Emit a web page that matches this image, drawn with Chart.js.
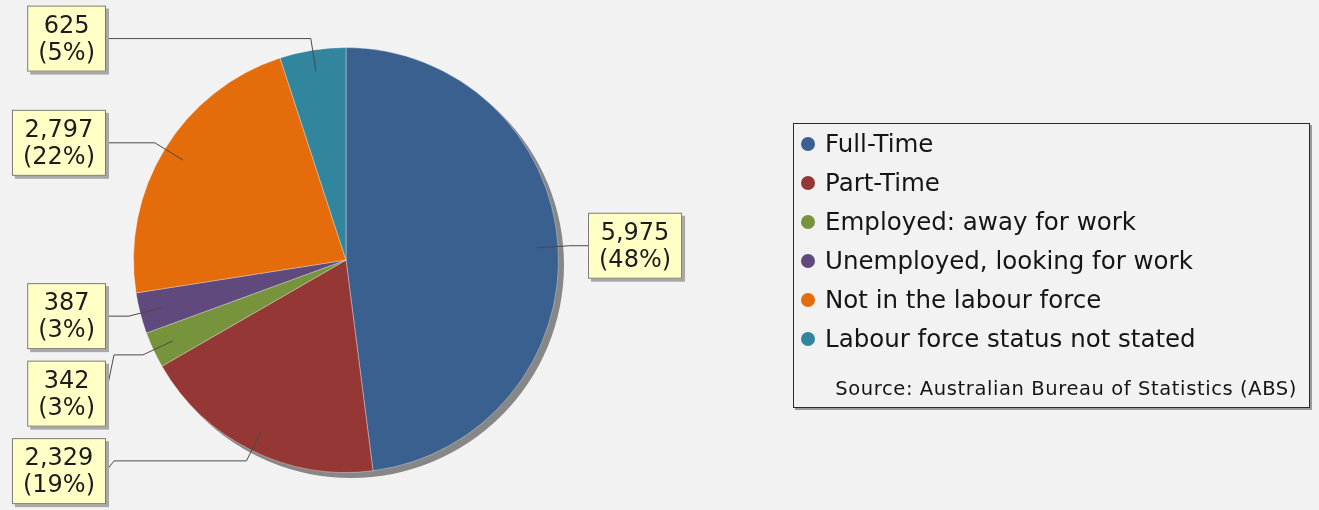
<!DOCTYPE html>
<html lang="en">
<head>
    <meta charset="UTF-8">
    <title>Labour force status</title>
    <style>
        * {
            margin: 0;
            padding: 0;
            box-sizing: border-box;
        }

        body {
            background: #f2f2f2;
            width: 1319px;
            height: 510px;
            overflow: hidden;
            font-family: 'DejaVu Sans', sans-serif;
            position: relative;
        }

        #chart {
            position: absolute;
            left: 0;
            top: 0;
        }

        .legend {
            position: absolute;
            left: 793px;
            top: 123px;
            width: 517px;
            height: 285px;
            border: 1.5px solid #2a2a2a;
            box-shadow: 2px 2px 0 #9a9a9a;
            background: #f2f2f2;
        }

        .legend-row {
            height: 39px;
            display: flex;
            align-items: center;
            font-size: 24.5px;
            color: #151515;
            white-space: pre;
        }

        .legend-row .dot {
            width: 14px;
            height: 14px;
            border-radius: 50%;
            margin-left: 7px;
            margin-right: 10px;
            flex: none;
        }

        .source {
            position: absolute;
            right: 12px;
            top: 253px;
            font-size: 19.5px;
            letter-spacing: 0.6px;
            color: #151515;
            white-space: pre;
        }
    </style>
    <script src="https://cdn.jsdelivr.net/npm/chart.js"></script>
</head>
<body>
    <canvas id="chart" width="1319" height="510"></canvas>
    <div class="legend" id="legend">
        <div class="source">Source: Australian Bureau of Statistics (ABS)</div>
    </div>

    <script>
        const categories = ["Full-Time", "Part-Time", "Employed: away for work", "Unemployed, looking for work", "Not in the labour force", "Labour force status not stated"];
        const persons = [5975, 2329, 342, 387, 2797, 625];
        const sliceColours = ["#39608f", "#953735", "#77933c", "#5f497d", "#e46c0a", "#31859c"];

        const total = persons.reduce((a, b) => a + b, 0);

        // legend box on the right
        const legend = document.getElementById("legend");
        categories.forEach((name, i) => {
            const row = document.createElement("div");
            row.className = "legend-row";
            row.innerHTML = '<span class="dot" style="background:' + sliceColours[i] + '"></span>' + name;
            legend.insertBefore(row, legend.querySelector(".source"));
        });

        // grey shadow behind the pie
        const pieShadow = {
            id: "pieShadow",
            beforeDatasetsDraw(chart) {
                const arc = chart.getDatasetMeta(0).data[0];
                if (!arc) return;
                const ctx = chart.ctx;
                ctx.save();
                ctx.fillStyle = "#878787";
                ctx.beginPath();
                ctx.arc(arc.x + 5, arc.y + 5, arc.outerRadius + 0.5, 0, Math.PI * 2);
                ctx.fill();
                ctx.restore();
            }
        };

        // yellow value boxes with link lines
        const sliceLabels = {
            id: "sliceLabels",
            afterDatasetsDraw(chart) {
                const ctx = chart.ctx;
                const meta = chart.getDatasetMeta(0);
                const boxH = 66, gap = 77.5;
                ctx.save();
                ctx.font = "24px 'DejaVu Sans'";

                const items = meta.data.map((arc, i) => {
                    const p = arc.getProps(["x", "y", "startAngle", "endAngle", "outerRadius"], true);
                    const a = (p.startAngle + p.endAngle) / 2;
                    const c = Math.cos(a), s = Math.sin(a), r = p.outerRadius;
                    const lines = [persons[i].toLocaleString("en-US"), "(" + Math.round(persons[i] / total * 100) + "%)"];
                    const w = Math.max(...lines.map(t => ctx.measureText(t).width)) + 22;
                    return {
                        lines, w,
                        right: c >= 0,
                        anchor: { x: p.x + 0.9 * r * c, y: p.y + 0.9 * r * s },
                        elbow: { x: p.x + 1.055 * r * c, y: p.y + 1.055 * r * s }
                    };
                });

                [true, false].forEach(side => {
                    const group = items.filter(it => it.right === side).sort((a, b) => a.elbow.y - b.elbow.y);
                    let prev = -Infinity;
                    group.forEach(it => {
                        it.cy = Math.max(it.elbow.y, prev + gap, boxH / 2 + 3);
                        prev = it.cy;
                    });
                });

                items.forEach(it => {
                    it.bx = it.right ? 588 : 106 - it.w;
                    it.by = it.cy - boxH / 2;
                    const edgeX = it.right ? it.bx : it.bx + it.w;
                    const linkX = it.right ? edgeX - 8 : edgeX + 8;

                    ctx.strokeStyle = "#4a4a4a";
                    ctx.lineWidth = 1;
                    ctx.beginPath();
                    ctx.moveTo(it.anchor.x, it.anchor.y);
                    ctx.lineTo(it.elbow.x, it.elbow.y);
                    ctx.lineTo(linkX, it.elbow.y);
                    ctx.lineTo(edgeX, it.cy);
                    ctx.stroke();

                    ctx.fillStyle = "#a8a8a8";
                    ctx.fillRect(it.bx + 3, it.by + 3, it.w, boxH);
                    ctx.fillStyle = "#ffffc6";
                    ctx.fillRect(it.bx, it.by, it.w, boxH);
                    ctx.strokeStyle = "#7a7a7a";
                    ctx.strokeRect(it.bx + 0.5, it.by + 0.5, it.w - 1, boxH - 1);

                    ctx.fillStyle = "#1c1c1c";
                    ctx.textAlign = "center";
                    ctx.textBaseline = "alphabetic";
                    ctx.fillText(it.lines[0], it.bx + it.w / 2, it.by + 27);
                    ctx.fillText(it.lines[1], it.bx + it.w / 2, it.by + 54);
                });
                ctx.restore();
            }
        };

        new Chart(document.getElementById("chart"), {
            type: "pie",
            data: {
                labels: categories,
                datasets: [{
                    data: persons,
                    backgroundColor: sliceColours,
                    borderColor: "rgba(255, 255, 255, 0.35)",
                    borderWidth: 1
                }]
            },
            options: {
                responsive: false,
                animation: false,
                devicePixelRatio: 1,
                layout: { padding: { left: 133, right: 760, top: 46, bottom: 36 } },
                plugins: {
                    legend: { display: false },
                    tooltip: { enabled: false }
                }
            },
            plugins: [pieShadow, sliceLabels]
        });
    </script>
</body>
</html>
